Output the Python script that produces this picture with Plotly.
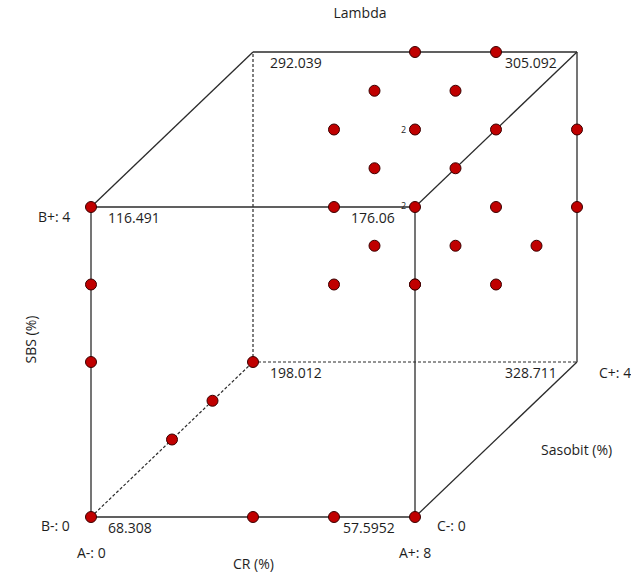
import plotly.graph_objects as go

# Factor ranges (actual units)
cr_levels = [0, 8]        # A: CR (%)
sbs_levels = [0, 4]       # B: SBS (%)
sas_levels = [0, 4]       # C: Sasobit (%)

# Design points (CR, SBS, Sasobit)
pt_cr = [0, 4, 6, 8, 0, 0, 0, 0, 0, 0, 6, 8, 8, 4, 6, 4, 6, 4, 6, 8, 8, 6, 8, 8, 6, 8, 8, 8, 6, 8, 8]
pt_sbs = [0, 0, 0, 0, 2, 3, 4, 0, 0, 0, 4, 4, 3, 4, 4, 4, 4, 4, 4, 4, 3, 4, 4, 3, 3, 3, 2, 2, 3, 3, 2]
pt_sas = [0, 0, 0, 0, 0, 0, 0, 2, 3, 4, 0, 0, 0, 4, 4, 3, 3, 2, 2, 2, 4, 1, 1, 2, 1, 1, 4, 3, 0, 0, 2]

# Replicated runs
rep_cr = [8, 6]
rep_sbs = [4, 4]
rep_sas = [0, 2]
rep_n = ["2", "2"]

# Response (Lambda) at the cube corners
corner_cr = [0, 8, 0, 8, 0, 8, 0, 8]
corner_sbs = [0, 0, 4, 4, 0, 0, 4, 4]
corner_sas = [0, 0, 0, 0, 4, 4, 4, 4]
corner_val = ["68.308", "57.5952", "116.491", "176.06", "198.012", "328.711", "292.039", "305.092"]


def proj(a, b, c):
    """Oblique projection of (CR, SBS, Sasobit) onto the page plane."""
    return a + c, b + 0.5 * c


EDGE = "#2b2b2b"
FONT = "Open Sans"
TXT = "#1e1e1e"
FS = 14

fig = go.Figure()

# Cube edges: those meeting the rear-bottom-left corner are hidden (dotted)
lo_a, hi_a = cr_levels
lo_b, hi_b = sbs_levels
lo_c, hi_c = sas_levels
corners = [(a, b, c) for a in cr_levels for b in sbs_levels for c in sas_levels]
hidden = (lo_a, lo_b, hi_c)
solid_x, solid_y, dot_x, dot_y = [], [], [], []
for i, p in enumerate(corners):
    for q in corners[i + 1:]:
        if sum(u != v for u, v in zip(p, q)) != 1:
            continue
        x0, y0 = proj(*p)
        x1, y1 = proj(*q)
        if p == hidden or q == hidden:
            dot_x += [x0, x1, None]
            dot_y += [y0, y1, None]
        else:
            solid_x += [x0, x1, None]
            solid_y += [y0, y1, None]

fig.add_trace(go.Scatter(x=dot_x, y=dot_y, mode="lines",
                         line=dict(color=EDGE, width=1.2, dash="3px,2px"),
                         hoverinfo="skip"))
fig.add_trace(go.Scatter(x=solid_x, y=solid_y, mode="lines",
                         line=dict(color=EDGE, width=1.3),
                         hoverinfo="skip"))

# Design points
px, py = zip(*[proj(a, b, c) for a, b, c in zip(pt_cr, pt_sbs, pt_sas)])
fig.add_trace(go.Scatter(x=list(px), y=list(py), mode="markers",
                         marker=dict(size=11, color="#c00000",
                                     line=dict(color="#3a0000", width=1))))

annotations = []

# Replicate counts
for a, b, c, n in zip(rep_cr, rep_sbs, rep_sas, rep_n):
    x, y = proj(a, b, c)
    annotations.append(dict(x=x, y=y, text=n, showarrow=False, xanchor="right",
                            xshift=-7, yshift=2 if c == 0 else 0,
                            font=dict(size=9, family=FONT, color=TXT)))

# Corner response values
for a, b, c, v in zip(corner_cr, corner_sbs, corner_sas, corner_val):
    x, y = proj(a, b, c)
    left = a == lo_a
    annotations.append(dict(x=x, y=y, text=v, showarrow=False,
                            xanchor="left" if left else "right",
                            xshift=(15 if left else -18), yshift=-10,
                            font=dict(size=FS, family=FONT, color=TXT)))


def factor_label(text, pos, xanchor, xshift, yshift):
    x, y = proj(*pos)
    annotations.append(dict(x=x, y=y, text=text, showarrow=False, xanchor=xanchor,
                            xshift=xshift, yshift=yshift,
                            font=dict(size=FS, family=FONT, color=TXT)))


factor_label(f"B-: {lo_b}", (lo_a, lo_b, lo_c), "right", -19, -8)
factor_label(f"B+: {hi_b}", (lo_a, hi_b, lo_c), "right", -19, -9)
factor_label(f"A-: {lo_a}", (lo_a, lo_b, lo_c), "center", 0, -35)
factor_label(f"A+: {hi_a}", (hi_a, lo_b, lo_c), "center", 0, -35)
factor_label(f"C-: {lo_c}", (hi_a, lo_b, lo_c), "left", 20, -8)
factor_label(f"C+: {hi_c}", (hi_a, lo_b, hi_c), "left", 20, -10)
factor_label("CR (%)", ((lo_a + hi_a) / 2, lo_b, lo_c), "center", 0, -46)
factor_label("Sasobit (%)", (hi_a, lo_b, (lo_c + hi_c) / 2), "center", 80, -10)

annotations.append(dict(x=18 / 631, y=1 - 340 / 575, xref="paper", yref="paper",
                        text="SBS (%)", showarrow=False, textangle=-90,
                        font=dict(size=FS, family=FONT, color=TXT)))

W, H = 631, 575
ox, oy = 91, 517           # page position of the origin corner
sx, sy = 40.5, 77.5        # pixels per unit of CR / SBS

fig.update_layout(
    width=W, height=H,
    margin=dict(l=0, r=0, t=0, b=0, pad=0),
    paper_bgcolor="white", plot_bgcolor="white",
    showlegend=False,
    title=dict(text="Lambda", x=360 / W, xanchor="center", y=1 - 13 / H,
               yanchor="middle", font=dict(size=FS, family=FONT, color=TXT)),
    xaxis=dict(range=[-ox / sx, (W - ox) / sx], visible=False, fixedrange=True),
    yaxis=dict(range=[-(H - oy) / sy, oy / sy], visible=False, fixedrange=True),
    annotations=annotations,
)

fig.write_html("out.html")
